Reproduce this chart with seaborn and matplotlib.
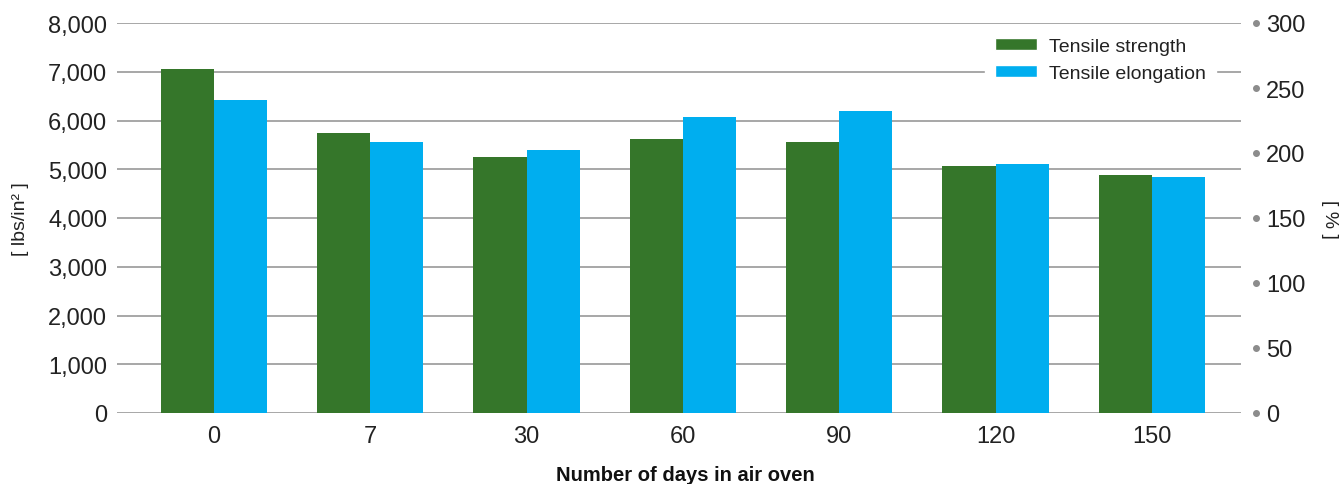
import matplotlib
matplotlib.use("Agg")
import matplotlib.pyplot as plt
import matplotlib.transforms as mtransforms
from matplotlib.patches import Patch
import numpy as np
import pandas as pd
import seaborn as sns

# Data
days = ["0", "7", "30", "60", "90", "120", "150"]
tensile_strength = [7060, 5745, 5250, 5620, 5560, 5070, 4885]      # lbs/in2
tensile_elongation = [241, 208.5, 202.5, 227.5, 232, 191.5, 181.5]  # %
left_ticks = [0, 1000, 2000, 3000, 4000, 5000, 6000, 7000, 8000]
right_ticks = [0, 50, 100, 150, 200, 250, 300]

series = ["Tensile strength", "Tensile elongation"]
green = "#35762a"
blue = "#00aeef"
grid_color = "#a0a0a0"
text_color = "#222222"

sns.set_style("white")
plt.rcParams["font.family"] = ["Liberation Sans", "DejaVu Sans"]
plt.rcParams["text.color"] = text_color

nan_row = [np.nan] * len(days)
# each axis gets both hue levels so the dodge positions line up; the other series is empty
df_left = pd.DataFrame({"days": days * 2, "value": tensile_strength + nan_row,
                        "series": [series[0]] * 7 + [series[1]] * 7})
df_right = pd.DataFrame({"days": days * 2, "value": nan_row + tensile_elongation,
                         "series": [series[0]] * 7 + [series[1]] * 7})

fig, ax = plt.subplots(figsize=(13.41, 4.85), dpi=100)
fig.subplots_adjust(left=117 / 1341, right=1241 / 1341, top=1 - 24 / 485, bottom=1 - 414 / 485)
ax2 = ax.twinx()

palette = {series[0]: green, series[1]: blue}
for a, d in ((ax, df_left), (ax2, df_right)):
    sns.barplot(data=d, x="days", y="value", hue="series", hue_order=series,
                order=days, palette=palette, width=0.68, gap=0, saturation=1,
                errorbar=None, linewidth=0, ax=a, legend=False)

for a in (ax, ax2):
    for s in a.spines.values():
        s.set_visible(False)
    a.set_xlim(-0.62, 6.57)

ax.set_ylim(0, 8000)
ax.set_yticks(left_ticks)
ax.set_yticklabels([f"{v:,}" for v in left_ticks])
ax.yaxis.grid(True, color=grid_color, linewidth=1.3)
ax.set_axisbelow(True)
ax.tick_params(axis="y", length=0, pad=7, labelsize=17, labelcolor=text_color)
ax.tick_params(axis="x", length=0, pad=9, labelsize=17, labelcolor=text_color)

ax2.set_ylim(0, 300)
ax2.set_yticks(right_ticks)
ax2.tick_params(axis="y", length=0, pad=18, labelsize=17, labelcolor=text_color)
# grey dot markers beside the right-hand tick labels
trans = mtransforms.blended_transform_factory(ax2.transAxes, ax2.transData)
ax2.plot([1.0135] * len(right_ticks), right_ticks, "o", color="#8c8c8c",
         markersize=4, transform=trans, clip_on=False)

ax.set_xlabel("Number of days in air oven", fontsize=14.5, fontweight="bold",
              color="#111111", va="center")
ax.xaxis.set_label_coords(0.506, -0.158)
ax.set_ylabel("[ lbs/in² ]", fontsize=14, color=text_color, va="center")
ax.yaxis.set_label_coords(-0.086, 0.5)
ax2.set_ylabel("[ % ]", fontsize=14, color=text_color, rotation=-90, va="center")
ax2.yaxis.set_label_coords(1.079, 0.5)

handles = [Patch(facecolor=green, label=series[0]), Patch(facecolor=blue, label=series[1])]
leg = ax2.legend(handles=handles, loc="upper right", bbox_to_anchor=(0.986, 1.012),
                 frameon=True, fontsize=14, handlelength=2.2, handleheight=0.6,
                 handletextpad=0.6, labelspacing=0.52, borderpad=0.5,
                 fancybox=False)
leg.get_frame().set_facecolor("white")
leg.get_frame().set_edgecolor("white")
leg.get_frame().set_alpha(1)

fig.savefig("out.png", dpi=100)
